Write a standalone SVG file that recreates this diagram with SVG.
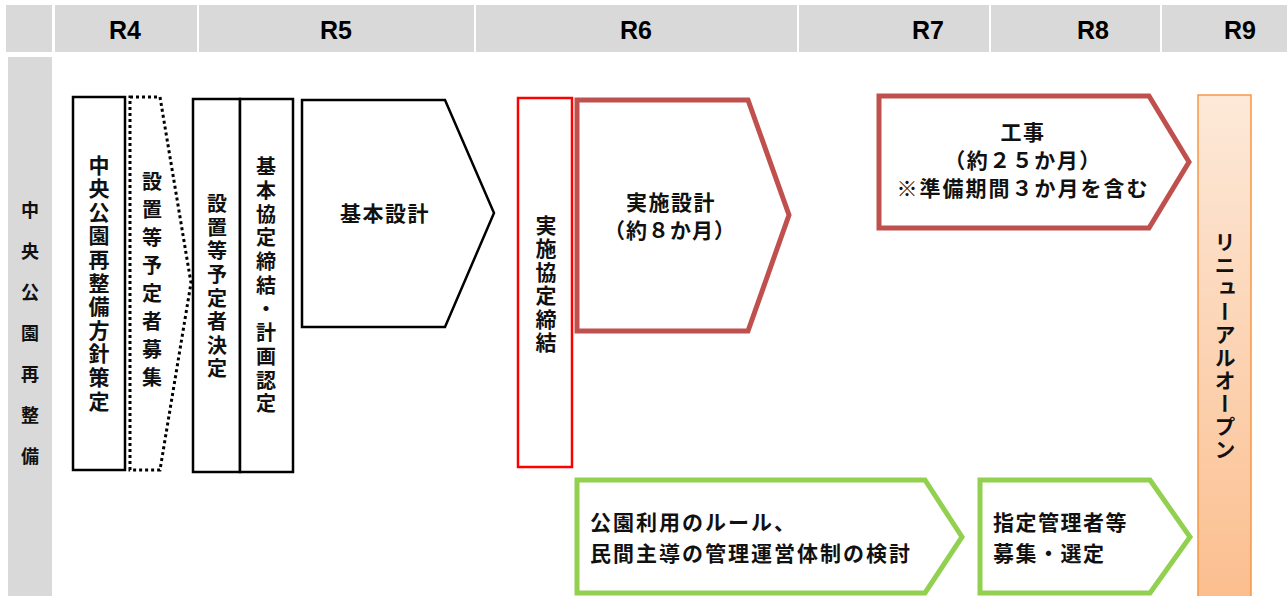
<svg xmlns="http://www.w3.org/2000/svg" width="1287" height="596" viewBox="0 0 1287 596">
<style>
.hd{fill:#d9d9d9}
.ht{font-family:"Liberation Sans","Noto Sans",sans-serif;font-weight:bold;font-size:25px;fill:#000;text-anchor:middle}
.jp{font-family:"Noto Sans CJK JP",sans-serif;fill:#111}
.v{writing-mode:vertical-rl;text-anchor:middle}
.blk{fill:#fff;stroke:#000;stroke-width:2.5}
.red{fill:#fff;stroke:#c0504d;stroke-width:5}
.grn{fill:#fff;stroke:#92d050;stroke-width:5}
</style>
<defs>
<linearGradient id="og" x1="0" y1="0" x2="0" y2="1">
<stop offset="0" stop-color="#fde9d9"/>
<stop offset="1" stop-color="#fbbe8e"/>
</linearGradient>
</defs>
<rect width="1287" height="596" fill="#fff"/>
<g id="header">
<rect class="hd" x="6" y="5" width="46" height="47"/>
<rect class="hd" x="55" y="5" width="142" height="47"/>
<rect class="hd" x="199" y="5" width="275" height="47"/>
<rect class="hd" x="476" y="5" width="321" height="47"/>
<rect class="hd" x="799" y="5" width="190" height="47"/>
<rect class="hd" x="991" y="5" width="169" height="47"/>
<rect class="hd" x="1162" y="5" width="125" height="47"/>
<text class="ht" x="125" y="39">R4</text>
<text class="ht" x="336" y="39">R5</text>
<text class="ht" x="636" y="39">R6</text>
<text class="ht" x="928" y="39">R7</text>
<text class="ht" x="1093" y="39">R8</text>
<text class="ht" x="1240" y="39">R9</text>
</g>
<g id="row-label">
<rect class="hd" x="8" y="57" width="44" height="539"/>
<text class="jp v" x="30" y="345" font-size="18" font-weight="bold" letter-spacing="23">中央公園再整備</text>
</g>
<g id="n1">
<rect class="blk" x="73" y="97" width="52" height="373"/>
<text class="jp v" x="99" y="284" font-size="21" font-weight="bold" letter-spacing="2.6">中央公園再整備方針策定</text>
</g>
<g id="n2">
<polygon points="130,97 160,97 191,283 160,470 130,470" fill="#fff" stroke="#000" stroke-width="3" stroke-dasharray="3 3"/>
<text class="jp v" x="152" y="283" font-size="20" font-weight="bold" letter-spacing="8">設置等予定者募集</text>
</g>
<g id="n3">
<rect class="blk" x="193" y="99" width="47" height="373"/>
<text class="jp v" x="217" y="288" font-size="20" font-weight="bold" letter-spacing="3.6">設置等予定者決定</text>
</g>
<g id="n4">
<rect class="blk" x="240" y="99" width="53" height="373"/>
<text class="jp v" x="266" y="287" font-size="20" font-weight="bold" letter-spacing="3.7">基本協定締結・計画認定</text>
</g>
<g id="n5">
<polygon class="blk" points="302,100 445,100 494,213 445,327 302,327"/>
<text class="jp" x="385" y="221" font-size="21" font-weight="bold" text-anchor="middle" letter-spacing="1.5">基本設計</text>
</g>
<g id="n6">
<rect x="518" y="98" width="54" height="369" fill="#fff" stroke="#ff0000" stroke-width="2.5"/>
<text class="jp v" x="546" y="285" font-size="21" font-weight="bold" letter-spacing="2.5">実施協定締結</text>
</g>
<g id="n7">
<polygon class="red" points="577,100 748,100 789,215 748,331 577,331"/>
<text class="jp" x="671" y="210" font-size="21" font-weight="bold" text-anchor="middle" letter-spacing="1.5">実施設計</text>
<text class="jp" x="670" y="238" font-size="21" font-weight="bold" text-anchor="middle" letter-spacing="1">（約８か月）</text>
</g>
<g id="n8">
<polygon class="red" points="879,96 1149,96 1189,162 1149,228 879,228"/>
<text class="jp" x="1023" y="140" font-size="21" font-weight="bold" text-anchor="middle" letter-spacing="1.5">工事</text>
<text class="jp" x="1023" y="168" font-size="21" font-weight="bold" text-anchor="middle" letter-spacing="1.5">（約２５か月）</text>
<text class="jp" x="1023" y="196" font-size="21" font-weight="bold" text-anchor="middle" letter-spacing="2">※準備期間３か月を含む</text>
</g>
<g id="n9">
<rect x="1198" y="95" width="53" height="510" fill="url(#og)" stroke="#f79646" stroke-width="1.5"/>
<text class="jp v" x="1225" y="347" font-size="21" font-weight="bold" letter-spacing="2">リニューアルオープン</text>
</g>
<g id="n10">
<polygon class="grn" points="577,480 925,480 962,537 925,593 577,593"/>
<text class="jp" x="590" y="530" font-size="21" font-weight="bold" letter-spacing="2">公園利用のルール、</text>
<text class="jp" x="590" y="561" font-size="21" font-weight="bold" letter-spacing="2">民間主導の管理運営体制の検討</text>
</g>
<g id="n11">
<polygon class="grn" points="980,480 1150,480 1190,537 1150,593 980,593"/>
<text class="jp" x="993" y="530" font-size="21" font-weight="bold" letter-spacing="1.5">指定管理者等</text>
<text class="jp" x="993" y="561" font-size="21" font-weight="bold" letter-spacing="1.5">募集・選定</text>
</g>
<g id="connectors"/>
</svg>
